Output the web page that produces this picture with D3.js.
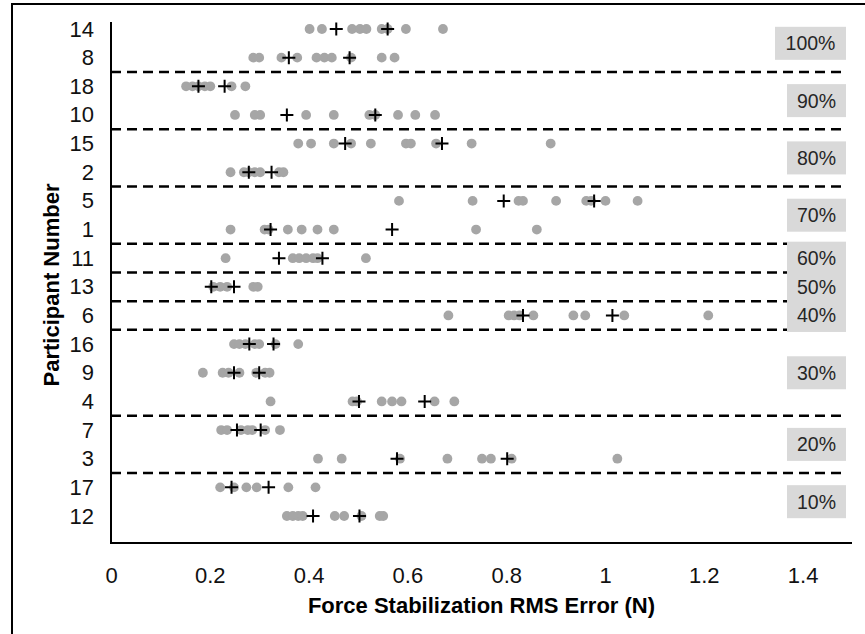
<!DOCTYPE html>
<html>
<head>
<meta charset="utf-8">
<script src="https://cdn.jsdelivr.net/npm/d3@7"></script>
<style>
  body { margin: 0; background: #fff; }
  svg text { font-family: "Liberation Sans", Arial, sans-serif; }
</style>
</head>
<body>
<svg id="chart" width="865" height="634"></svg>
<script>
// participants, top to bottom
const participants = ["14","8","18","10","15","2","5","1","11","13","6","16","9","4","7","3","17","12"];

// percentage groups and how many participants each one holds
const levels = ["100%","90%","80%","70%","60%","50%","40%","30%","20%","10%"];
const levelSizes = [2,2,2,2,1,1,1,3,2,2];

// individual trial errors (N), one list per participant
const trialErrors = [
  [0.402,0.427,0.488,0.504,0.517,0.548,0.560,0.597,0.672],
  [0.288,0.300,0.345,0.377,0.416,0.432,0.447,0.486,0.548,0.574],
  [0.152,0.165,0.177,0.190,0.201,0.244,0.272],
  [0.251,0.291,0.302,0.395,0.451,0.523,0.535,0.581,0.616,0.656],
  [0.379,0.405,0.451,0.486,0.526,0.597,0.607,0.658,0.730,0.890],
  [0.242,0.269,0.279,0.291,0.302,0.340,0.349],
  [0.583,0.732,0.825,0.834,0.901,0.962,0.972,1.001,1.066],
  [0.242,0.311,0.319,0.358,0.386,0.418,0.451,0.739,0.862],
  [0.232,0.368,0.381,0.395,0.409,0.418,0.516],
  [0.207,0.221,0.235,0.288,0.297],
  [0.683,0.805,0.816,0.827,0.855,0.936,0.960,1.039,1.209],
  [0.249,0.260,0.272,0.291,0.300,0.333,0.379],
  [0.186,0.226,0.238,0.260,0.294,0.312,0.321],
  [0.323,0.489,0.498,0.548,0.569,0.588,0.655,0.695],
  [0.223,0.235,0.263,0.277,0.286,0.312,0.342],
  [0.419,0.467,0.585,0.681,0.751,0.769,0.811,1.025],
  [0.221,0.249,0.274,0.295,0.359,0.414],
  [0.356,0.368,0.379,0.388,0.453,0.472,0.507,0.544,0.551]
];

// the two black "+" marks on each row
const meanMarks = [
  [0.456,0.560],[0.360,0.483],[0.177,0.230],[0.356,0.535],[0.474,0.670],[0.279,0.325],
  [0.795,0.978],[0.323,0.569],[0.340,0.428],[0.203,0.249],[0.834,1.015],[0.280,0.329],
  [0.249,0.300],[0.502,0.635],[0.255,0.303],[0.579,0.802],[0.244,0.319],[0.409,0.503]
];

const xTicks = [0,0.2,0.4,0.6,0.8,1,1.2,1.4];

const svg = d3.select("#chart");

// frame round the picture (only left and top show)
svg.append("rect").attr("x",12).attr("y",4).attr("width",900).attr("height",700)
  .attr("fill","none").attr("stroke","#000").attr("stroke-width",2);

const x = d3.scaleLinear().domain([0,1.5]).range([111,852]);
const y = d3.scalePoint().domain(participants).range([29,516]);
const step = y.step();
const axisTop = 22, axisBottom = 543;

// group bands: middle of the group and line under it
let bounds = [], idx = 0;
levelSizes.forEach((n,i) => {
  const first = participants[idx], last = participants[idx+n-1];
  bounds.push({ label: levels[i], mid: (y(first)+y(last))/2, bottom: y(last)+step/2 });
  idx += n;
});

svg.append("g").selectAll("line").data(bounds.slice(0,-1)).join("line")
  .attr("x1",x(0)).attr("x2",846)
  .attr("y1",d => d.bottom).attr("y2",d => d.bottom)
  .attr("stroke","#000").attr("stroke-width",2.5).attr("stroke-dasharray","10,6");

// grey label boxes on the right
const boxes = svg.append("g").selectAll("g").data(bounds).join("g");
boxes.append("rect")
  .attr("x",d => d.label.length > 3 ? 775 : 787)
  .attr("width",d => d.label.length > 3 ? 71 : 59)
  .attr("y",d => d.mid-16.5).attr("height",33)
  .attr("fill","#d9d9d9");
boxes.append("text")
  .attr("x",d => d.label.length > 3 ? 810.5 : 816.5)
  .attr("y",d => d.mid+7)
  .attr("text-anchor","middle").attr("font-size",19.5).attr("fill","#262626")
  .text(d => d.label);

// dots and plus marks
const rows = svg.append("g").selectAll("g").data(participants).join("g")
  .attr("transform",d => `translate(0,${y(d)})`);
rows.selectAll("circle").data((d,i) => trialErrors[i]).join("circle")
  .attr("cx",d => x(d)).attr("cy",0).attr("r",4.9).attr("fill","#a6a6a6");

rows.selectAll("path").data((d,i) => meanMarks[i]).join("path")
  .attr("d","M-6.5,0H6.5M0,-6.5V6.5")
  .attr("transform",d => `translate(${x(d)},0)`)
  .attr("stroke","#000").attr("stroke-width",2).attr("fill","none");

// axes
const yAxis = svg.append("g").attr("transform",`translate(${x(0)},0)`)
  .call(d3.axisLeft(y).tickSize(0).tickPadding(17));
yAxis.select(".domain").remove();
yAxis.selectAll("text").attr("font-size",22).attr("fill","#111")
  .attr("font-family","Liberation Sans, Arial");

const xAxis = svg.append("g").attr("transform",`translate(0,${axisBottom})`)
  .call(d3.axisBottom(x).tickValues(xTicks).tickSize(0).tickFormat(d3.format("")));
xAxis.select(".domain").remove();
xAxis.selectAll("text").attr("y",24).attr("font-size",22).attr("fill","#111")
  .attr("font-family","Liberation Sans, Arial");

svg.append("path")
  .attr("d",`M${x(0)},${axisTop}V${axisBottom}H${x(1.5)}`)
  .attr("fill","none").attr("stroke","#000").attr("stroke-width",2);

svg.append("text").attr("x",(x(0)+x(1.5))/2).attr("y",613)
  .attr("text-anchor","middle").attr("font-size",22).attr("font-weight","bold")
  .text("Force Stabilization RMS Error (N)");

svg.append("text").attr("transform","translate(59,285) rotate(-90)")
  .attr("text-anchor","middle").attr("font-size",22).attr("font-weight","bold")
  .text("Participant Number");
</script>
</body>
</html>
